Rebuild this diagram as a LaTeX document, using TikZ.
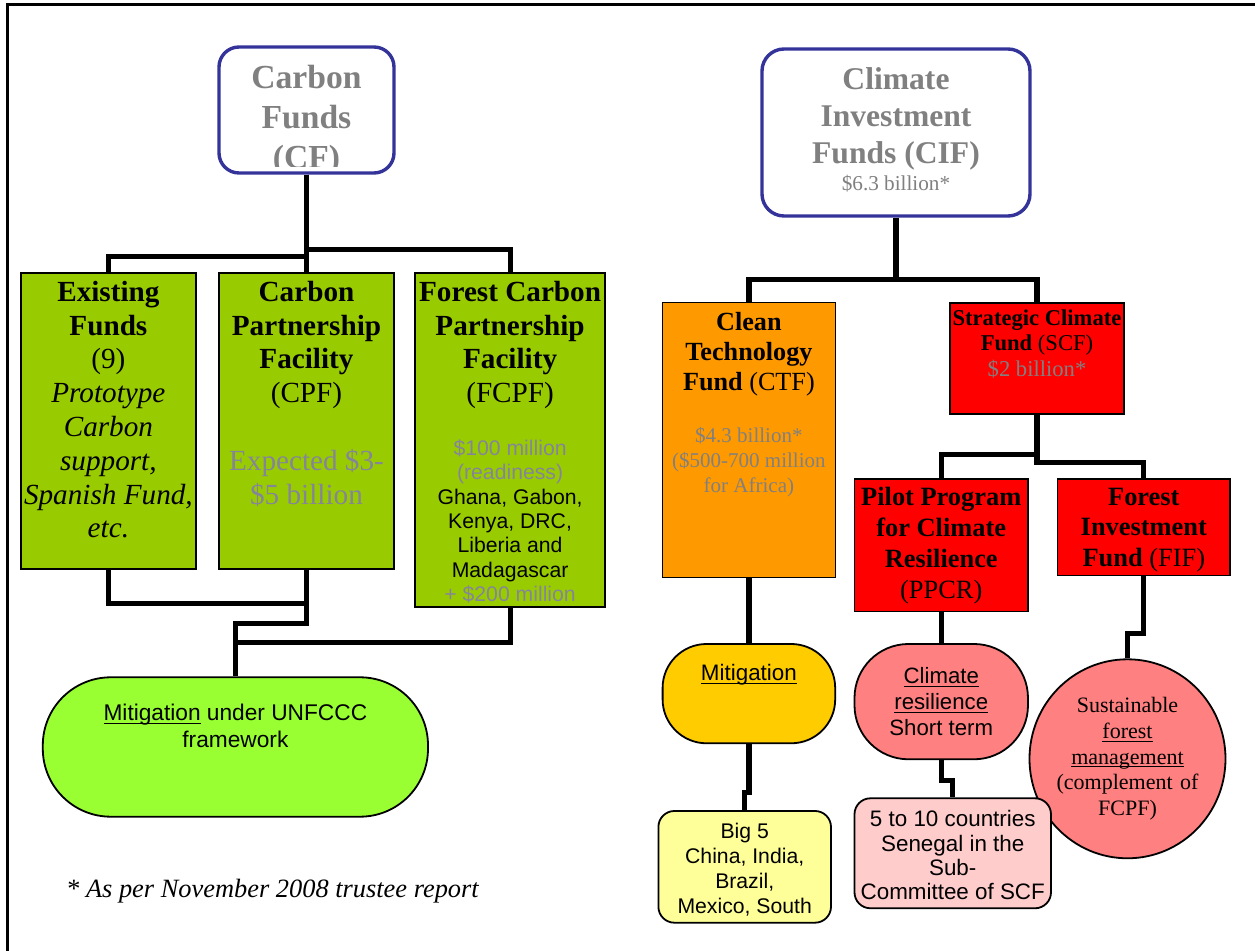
\documentclass[tikz,border=0pt]{standalone}
\usepackage{fontspec}
\setmainfont{Liberation Serif}
\setsansfont{Liberation Sans}
\usetikzlibrary{shapes.geometric}

\definecolor{fundblue}{HTML}{333399}
\definecolor{leafgreen}{HTML}{99CC00}
\definecolor{limegreen}{HTML}{99FF33}
\definecolor{ctforange}{HTML}{FF9900}
\definecolor{mitiyellow}{HTML}{FFCC00}
\definecolor{paleyellow}{HTML}{FFFF99}
\definecolor{salmon}{HTML}{FF8080}
\definecolor{palepink}{HTML}{FFCCCC}
\definecolor{textgray}{HTML}{808080}
\definecolor{greengray}{HTML}{85859A}

% text block of fixed width and height, set from the top
\newcommand{\toptext}[4]{\parbox[c][#2][t]{#1}{\centering\vspace*{#3}#4}}
% underline just below the baseline
\newcommand{\underword}[1]{\leavevmode\setbox0\hbox{#1}\rlap{\rule[-1.7pt]{\wd0}{0.55pt}}\box0\relax}

\begin{document}
\begin{tikzpicture}[x=0.5pt, y=-0.5pt,
    link/.style={line width=2.6pt, line join=miter},
    headbox/.style={draw=fundblue, line width=1.7pt, rounded corners=11pt, fill=white, inner sep=0pt},
    fundbox/.style={draw=black, line width=0.8pt, inner xsep=-3pt, inner ysep=0pt},
    greenbox/.style={fundbox, fill=leafgreen, font=\fontsize{14.6}{16.9}\selectfont},
    redbox/.style={fundbox, fill=red, font=\fontsize{13.2}{15.4}\selectfont},
    pillbox/.style={fundbox, line width=0.9pt, font=\sffamily\fontsize{11.2}{12.9}\selectfont},
    softbox/.style={fundbox, line width=0.9pt, rounded corners=8pt, font=\sffamily\fontsize{10.6}{12.5}\selectfont}]
    \useasboundingbox (0,0) rectangle (1255,951);
    % Draw the page frame
    \draw[line width=1.2pt] (7.5,951) -- (7.5,4.5) -- (1255,4.5);

    % Carbon funds side
    \node[headbox, rounded corners=10pt, minimum width=87.5pt, minimum height=63pt] (cf) at (306.5,110) {};
    \begin{scope}
        \clip (219,47) rectangle (394,167);
        \node[anchor=north, inner sep=0pt, align=center, text=textgray,
            font=\bfseries\fontsize{16.8}{20}\selectfont] (cftext) at (306.5,65) {Carbon\\Funds\\(CF)};
    \end{scope}
    \node[greenbox] (ef) at (108.4,421) {\toptext{93.3pt}{148pt}{4pt}{{\bfseries Existing\\Funds}\\(9)\\{\itshape Prototype\\Carbon\\support,\\Spanish Fund,\\etc.}}};
    \node[greenbox] (cpf) at (306.5,421) {\toptext{93.3pt}{148pt}{4pt}{{\bfseries Carbon\\Partnership\\Facility}\\(CPF)\\[16.9pt]{\color{greengray}Expected \$3-\\\$5 billion}}};
    \node[greenbox] (fcpf) at (510.1,440) {\toptext{101pt}{167pt}{4pt}{{\bfseries Forest Carbon\\Partnership\\Facility}\\(FCPF)\\[14.1pt]{\sffamily\fontsize{10.6}{12.2}\selectfont\color{greengray}\$100 million\\(readiness)\\{\color{black}Ghana, Gabon,\\Kenya, DRC,\\Liberia and\\Madagascar}\\+ \$200 million\par}}};
    \node[pillbox, fill=limegreen, rounded corners=34pt, font=\sffamily\fontsize{11.35}{13.5}\selectfont] (mitu) at (235.4,747) {\toptext{198.6pt}{69.7pt}{13.6pt}{\underword{Mitigation} under UNFCCC\\framework}};
    \node[font=\itshape\fontsize{13.2}{15}\selectfont, inner sep=0pt] (note) at (272.5,891) {* As per November 2008 trustee report};

    % Draw the links of the carbon funds
    \draw[link] (cf.south) -- ++(0,82) -| (ef.north);
    \draw[link] (cf.south) -- (cpf.north);
    \draw[link] (cf.south) -- ++(0,75) -| (fcpf.north);
    \draw[link] (ef.south) -- ++(0,33.7) -| (cpf.south);
    \draw[link] (cpf.south) -- ++(0,54) -| (mitu.north);
    \draw[link] (fcpf.south) -- ++(0,35) -| (mitu.north);

    % Climate investment funds side
    \node[headbox, text=textgray, font=\bfseries\fontsize{15.8}{18.5}\selectfont] (cif) at (896,132.5) {\toptext{134pt}{83.5pt}{9.5pt}{Climate\\Investment\\Funds (CIF)\\[0.8pt]{\mdseries\fontsize{10.6}{12.7}\selectfont\$6.3 billion*\par}}};
    \node[fundbox, fill=ctforange, font=\fontsize{13.1}{15}\selectfont] (ctf) at (748.9,440.2) {\toptext{92.5pt}{137.5pt}{5pt}{{\bfseries Clean\\Technology\\Fund} (CTF)\\[13.1pt]{\fontsize{10.5}{12.5}\selectfont\color{textgray}\$4.3 billion*\\(\$500-700 million\\for Africa)\par}}};
    \node[redbox, font=\fontsize{11.3}{12.75}\selectfont] (scf) at (1037,358.4) {\toptext{93.25pt}{55.65pt}{3.4pt}{{\bfseries Strategic Climate\\Fund} (SCF)\\{\color{textgray}\$2 billion*}}};
    \node[redbox] (ppcr) at (941.25,545.5) {\toptext{92.75pt}{66.2pt}{4pt}{{\bfseries Pilot Program\\for Climate\\Resilience}\\(PPCR)}};
    \node[redbox] (fif) at (1143.8,527.5) {\toptext{92.2pt}{48.2pt}{4.3pt}{{\bfseries Forest\\Investment\\Fund} (FIF)}};
    \node[pillbox, fill=mitiyellow, rounded corners=22pt] (mitc) at (748.9,693.65) {\toptext{92.3pt}{49.65pt}{10pt}{\underword{Mitigation}}};
    \node[pillbox, fill=salmon, rounded corners=27pt, font=\sffamily\fontsize{11.1}{12.9}\selectfont] (crs) at (941.25,701.65) {\toptext{92.75pt}{57.65pt}{11.9pt}{\underword{Climate}\\\underword{resilience}\\Short term}};
    \node[ellipse, draw=black, line width=0.9pt, fill=salmon, minimum width=98pt, minimum height=99.5pt,
        inner sep=-10pt, text width=76pt, align=center, font=\fontsize{11}{12.8}\selectfont] (sfm) at (1127.5,758.8)
        {Sustainable\\\underword{forest}\\\underword{management}\\(complement of\\FCPF)};
    \node[softbox, fill=paleyellow] (bigf) at (744.7,866.85) {\toptext{92.3pt}{55.85pt}{5.9pt}{Big 5\\China, India,\\Brazil,\\Mexico, South}};
    \node[softbox, fill=palepink, font=\sffamily\fontsize{11.2}{12.2}\selectfont] (ften) at (952.75,853.3) {\toptext{104.25pt}{55pt}{6.1pt}{5 to 10 countries\\Senegal in the\\Sub-\\Committee of SCF}};

    % Draw the links of the climate investment funds
    \draw[link] (cif.south) -- ++(0,62) -| (ctf.north);
    \draw[link] (cif.south) -- ++(0,62) -| (scf.north);
    \draw[link] (scf.south) -- ++(0,40) -| (ppcr.north);
    \draw[link] (scf.south) -- ++(0,48) -| (fif.north);
    \draw[link] (ctf.south) -- (mitc.north);
    \draw[link] (mitc.south) -- ++(0,48) -| (bigf.north);
    \draw[link] (ppcr.south) -- (crs.north);
    \draw[link] (crs.south) -- ++(0,20) -| (ften.north);
    \draw[link] (fif.south) -- ++(0,57) -| (sfm.north);
\end{tikzpicture}
\end{document}
